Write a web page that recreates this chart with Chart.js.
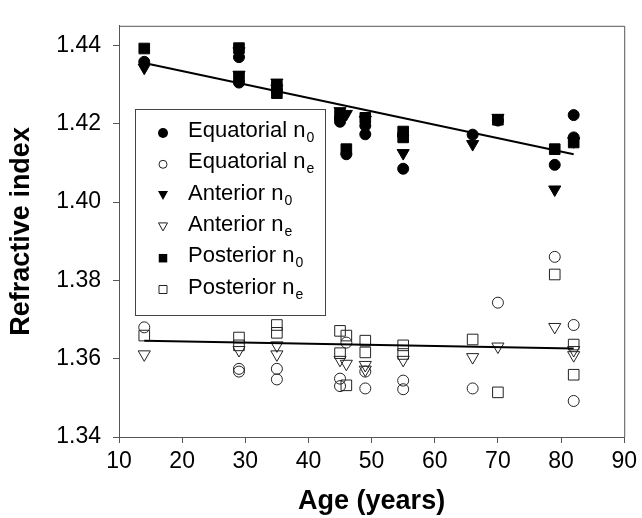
<!DOCTYPE html>
<html>
<head>
<meta charset="utf-8">
<script src="https://cdn.jsdelivr.net/npm/chart.js@4.4.0/dist/chart.umd.min.js"></script>
<style>
  html, body { margin: 0; padding: 0; background: #fff; }
</style>
</head>
<body>
<canvas id="chart" width="642" height="518"></canvas>
<script>
// values
const xTicks = [10, 20, 30, 40, 50, 60, 70, 80, 90];
const yTicks = [1.34, 1.36, 1.38, 1.40, 1.42, 1.44];

const eqN0Age = [14, 29, 29, 35, 45, 45, 46, 49, 49, 55, 55, 66, 70, 79, 82, 82];
const eqN0 = [1.4358, 1.4370, 1.4305, 1.4282, 1.4205, 1.4215, 1.4122, 1.4173, 1.4195, 1.4085, 1.4170, 1.4172, 1.4208, 1.4095, 1.4222, 1.4165];

const eqNeAge = [14, 29, 29, 35, 35, 45, 45, 46, 49, 49, 55, 55, 66, 70, 79, 82, 82];
const eqNe = [1.3680, 1.3574, 1.3567, 1.3574, 1.3547, 1.3549, 1.3530, 1.3641, 1.3567, 1.3524, 1.3544, 1.3522, 1.3524, 1.3743, 1.3860, 1.3686, 1.3492];

const antN0Age = [14, 29, 29, 35, 35, 45, 46, 49, 55, 66, 70, 79, 82];
const antN0 = [1.4343, 1.4385, 1.4325, 1.4305, 1.4290, 1.4232, 1.4225, 1.4210, 1.4125, 1.4148, 1.4215, 1.4032, 1.4155];

const antNeAge = [14, 29, 35, 35, 45, 46, 49, 49, 55, 66, 70, 79, 82, 82];
const antNe = [1.3611, 1.3622, 1.3634, 1.3611, 1.3597, 1.3587, 1.3584, 1.3572, 1.3597, 1.3604, 1.3631, 1.3681, 1.3622, 1.3609];

const postN0Age = [14, 29, 29, 35, 35, 45, 46, 49, 55, 55, 70, 79, 82];
const postN0 = [1.4392, 1.4393, 1.4320, 1.4295, 1.4278, 1.4222, 1.4135, 1.4215, 1.4180, 1.4165, 1.4210, 1.4135, 1.4152];

const postNeAge = [14, 29, 29, 35, 35, 45, 45, 46, 46, 49, 49, 55, 55, 66, 70, 79, 82, 82];
const postNe = [1.3659, 1.3654, 1.3634, 1.3686, 1.3666, 1.3671, 1.3614, 1.3659, 1.3532, 1.3646, 1.3616, 1.3634, 1.3612, 1.3649, 1.3514, 1.3815, 1.3636, 1.3559];

// regression lines, end points as drawn
const fitAge = [14, 82];
const fitN0 = [1.4355, 1.4122];
const fitNe = [1.3646, 1.3626];

const FONT = "'Liberation Sans', Arial, Helvetica, sans-serif";

function pts(xs, ys) {
  return xs.map((x, i) => ({ x: x, y: ys[i] }));
}

function scatter(label, xs, ys, style, filled, radius, rotation) {
  return {
    type: 'scatter',
    label: label,
    data: pts(xs, ys),
    pointStyle: style,
    pointRadius: radius,
    pointRotation: rotation || 0,
    pointBorderWidth: 1,
    pointBorderColor: filled ? '#000' : '#222',
    pointBackgroundColor: filled ? '#000' : 'rgba(0,0,0,0)',
    order: 2
  };
}

function fitLine(ys) {
  return {
    type: 'line',
    data: pts(fitAge, ys),
    borderColor: '#000',
    borderWidth: 2,
    pointRadius: 0,
    fill: false,
    order: 1
  };
}

const legendRows = [
  { name: 'Equatorial n', sub: '0', style: 'circle', filled: true },
  { name: 'Equatorial n', sub: 'e', style: 'circle', filled: false },
  { name: 'Anterior n', sub: '0', style: 'tri', filled: true },
  { name: 'Anterior n', sub: 'e', style: 'tri', filled: false },
  { name: 'Posterior n', sub: '0', style: 'rect', filled: true },
  { name: 'Posterior n', sub: 'e', style: 'rect', filled: false }
];

// box round the plot + floating legend
const framePlugin = {
  id: 'frame',
  afterDatasetsDraw(chart) {
    const ctx = chart.ctx;
    const a = chart.chartArea;
    ctx.save();
    ctx.strokeStyle = '#555';
    ctx.lineWidth = 1;
    ctx.beginPath();
    ctx.moveTo(a.left, a.top + 0.5);
    ctx.lineTo(a.right + 0.5, a.top + 0.5);
    ctx.lineTo(a.right + 0.5, a.bottom);
    ctx.stroke();

    // legend
    const bx = 135, by = 109, bw = 190, bh = 206;
    ctx.fillStyle = '#fff';
    ctx.fillRect(bx, by, bw, bh);
    ctx.strokeStyle = '#444';
    ctx.strokeRect(bx + 0.5, by + 0.5, bw, bh);

    legendRows.forEach((r, i) => {
      const base = 137 + i * 31.3;
      const sx = 163, sy = base - 4;
      ctx.beginPath();
      const s = r.filled ? 5 : 4;
      if (r.style === 'circle') {
        ctx.arc(sx, sy, s, 0, Math.PI * 2);
      } else if (r.style === 'tri') {
        const h = r.filled ? 9 : 8;
        ctx.moveTo(sx - h / 2 - 0.5, sy - h / 2);
        ctx.lineTo(sx + h / 2 + 0.5, sy - h / 2);
        ctx.lineTo(sx, sy + h / 2);
        ctx.closePath();
      } else {
        const w = r.filled ? 8.5 : 8;
        ctx.rect(sx - w / 2, sy - w / 2, w, w);
      }
      if (r.filled) {
        ctx.fillStyle = '#000';
        ctx.fill();
      } else {
        ctx.strokeStyle = '#222';
        ctx.lineWidth = 1;
        ctx.stroke();
      }

      ctx.fillStyle = '#000';
      ctx.textBaseline = 'alphabetic';
      ctx.textAlign = 'left';
      ctx.font = '22px ' + FONT;
      ctx.fillText(r.name, 188, base);
      const w = ctx.measureText(r.name).width;
      ctx.font = '14px ' + FONT;
      ctx.fillText(r.sub, 188 + w + 1, base + 5);
    });
    ctx.restore();
  }
};

const ctx = document.getElementById('chart').getContext('2d');

new Chart(ctx, {
  data: {
    datasets: [
      fitLine(fitN0),
      fitLine(fitNe),
      scatter('Equatorial n0', eqN0Age, eqN0, 'circle', true, 5.5),
      scatter('Equatorial ne', eqNeAge, eqNe, 'circle', false, 5.5),
      scatter('Anterior n0', antN0Age, antN0, 'triangle', true, 7, 180),
      scatter('Anterior ne', antNeAge, antNe, 'triangle', false, 7, 180),
      scatter('Posterior n0', postN0Age, postN0, 'rect', true, 7.5),
      scatter('Posterior ne', postNeAge, postNe, 'rect', false, 7.5)
    ]
  },
  options: {
    responsive: false,
    animation: false,
    layout: { padding: { left: 0, right: 17, top: 15, bottom: 0 } },
    plugins: {
      legend: { display: false },
      tooltip: { enabled: false }
    },
    scales: {
      x: {
        type: 'linear',
        min: 10,
        max: 90,
        afterFit: s => { s.height = 81; },
        afterBuildTicks: s => { s.ticks = xTicks.map(v => ({ value: v })); },
        ticks: { color: '#000', font: { family: FONT, size: 23 }, padding: 5, maxRotation: 0 },
        grid: { drawOnChartArea: false, drawTicks: true, tickLength: 6, color: '#555' },
        border: { display: true, color: '#555', width: 1 },
        title: {
          display: true,
          text: 'Age (years)',
          color: '#000',
          font: { family: FONT, size: 27, weight: 'bold' },
          padding: { top: 0, bottom: 0 }
        }
      },
      y: {
        type: 'linear',
        min: 1.34,
        max: 1.445,
        afterFit: s => { s.width = 119; },
        afterBuildTicks: s => { s.ticks = yTicks.map(v => ({ value: v })); },
        ticks: {
          color: '#000',
          font: { family: FONT, size: 23 },
          padding: 12,
          callback: v => v.toFixed(2)
        },
        grid: { drawOnChartArea: false, drawTicks: true, tickLength: 6, color: '#555' },
        border: { display: true, color: '#555', width: 1 },
        title: {
          display: true,
          text: 'Refractive index',
          color: '#000',
          font: { family: FONT, size: 27, weight: 'bold' },
          padding: { top: 5, bottom: 0 }
        }
      }
    }
  },
  plugins: [framePlugin]
});
</script>
</body>
</html>
